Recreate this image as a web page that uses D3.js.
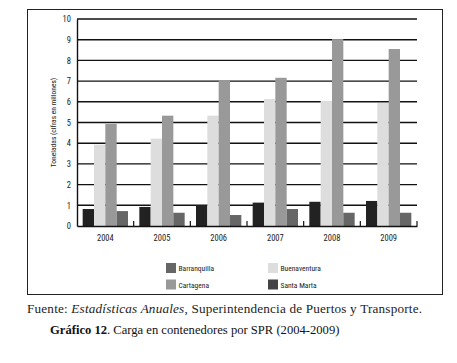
<!DOCTYPE html>
<html>
<head>
<meta charset="utf-8">
<script src="https://cdn.jsdelivr.net/npm/d3@7"></script>
<style>
  body { margin: 0; background: #fff; }
  svg { display: block; }
</style>
</head>
<body>
<div id="chart"></div>
<script>
// Chart data
const years = ["2004", "2005", "2006", "2007", "2008", "2009"];
const ports = ["Barranquilla", "Buenaventura", "Cartagena", "Santa Marta"];
const barranquilla = [0.82, 0.92, 1.01, 1.13, 1.17, 1.21];
const buenaventura = [3.93, 4.22, 5.33, 6.13, 6.04, 5.94];
const cartagena = [4.93, 5.33, 7.05, 7.16, 9.03, 8.55];
const santaMarta = [0.72, 0.64, 0.53, 0.82, 0.64, 0.64];
const yTicks = [0, 1, 2, 3, 4, 5, 6, 7, 8, 9, 10];

const barColors = ["#222222", "#dddddd", "#999999", "#666666"];
const legendColors = ["#666666", "#dddddd", "#999999", "#444444"];

const width = 457, height = 363;
const margin = { top: 19, right: 40, bottom: 137, left: 77 };
const sansFont = "'Liberation Sans Narrow', 'Roboto Condensed', 'Liberation Sans', sans-serif";

const svg = d3.select("#chart")
    .append("svg")
    .attr("width", width)
    .attr("height", height);

// outer frame
svg.append("rect")
    .attr("x", 27.5).attr("y", 9.5)
    .attr("width", 415).attr("height", 285)
    .attr("fill", "none")
    .attr("stroke", "#222")
    .attr("stroke-width", 1);

const x0 = d3.scaleBand()
    .domain(years)
    .range([margin.left, width - margin.right])
    .paddingInner(0)
    .paddingOuter(0);

const x1 = d3.scaleBand()
    .domain(ports)
    .range([0, x0.bandwidth()])
    .paddingOuter(0.5);

const y = d3.scaleLinear()
    .domain([0, 10])
    .range([height - margin.bottom, margin.top]);

const series = [barranquilla, buenaventura, cartagena, santaMarta];
const rows = years.map((yr, i) => ({
    year: yr,
    values: ports.map((p, j) => ({ port: p, idx: j, value: series[j][i] }))
}));

// gridlines
svg.append("g")
    .selectAll("line")
    .data(yTicks.filter(d => d > 0))
    .enter()
    .append("line")
    .attr("x1", margin.left)
    .attr("x2", width - margin.right)
    .attr("y1", d => y(d))
    .attr("y2", d => y(d))
    .attr("stroke", "#111")
    .attr("stroke-width", 1.4);

// bars
svg.append("g")
    .selectAll("g")
    .data(rows)
    .enter()
    .append("g")
    .attr("transform", d => `translate(${x0(d.year)},0)`)
    .selectAll("rect")
    .data(d => d.values)
    .enter()
    .append("rect")
    .attr("x", d => x1(d.port))
    .attr("width", x1.bandwidth())
    .attr("y", d => y(d.value))
    .attr("height", d => y(0) - y(d.value))
    .attr("fill", d => barColors[d.idx]);

// y axis
const yAxis = svg.append("g")
    .attr("transform", `translate(${margin.left},0)`)
    .call(d3.axisLeft(y).tickValues(yTicks).tickSize(0).tickPadding(6));
yAxis.select(".domain").attr("stroke", "#111").attr("stroke-width", 1.4);
yAxis.selectAll("text")
    .attr("font-family", sansFont)
    .attr("font-size", 8.5)
    .attr("fill", "#222");

// x axis baseline with boundary ticks
const xAxis = svg.append("g")
    .attr("transform", `translate(0,${y(0)})`)
    .call(d3.axisBottom(x0).tickSize(0).tickPadding(9));
xAxis.select(".domain").attr("stroke", "#111").attr("stroke-width", 1.4);
xAxis.selectAll("text")
    .attr("font-family", sansFont)
    .attr("font-size", 8.5)
    .attr("fill", "#222");
xAxis.selectAll("line.sep")
    .data(years)
    .enter()
    .append("line")
    .attr("class", "sep")
    .attr("x1", d => x0(d) + x0.bandwidth())
    .attr("x2", d => x0(d) + x0.bandwidth())
    .attr("y1", 0)
    .attr("y2", -5)
    .attr("stroke", "#111")
    .attr("stroke-width", 1.2);

// y axis title
svg.append("text")
    .attr("transform", `translate(56,${(y(0) + y(10)) / 2}) rotate(-90)`)
    .attr("text-anchor", "middle")
    .attr("font-family", sansFont)
    .attr("font-size", 7.5)
    .attr("fill", "#222")
    .text("Toneladas (cifras en millones)");

// legend
const legend = svg.append("g")
    .selectAll("g")
    .data(ports)
    .enter()
    .append("g")
    .attr("transform", (d, i) => `translate(${166 + (i % 2) * 102},${263 + Math.floor(i / 2) * 16.5})`);

legend.append("rect")
    .attr("width", 10)
    .attr("height", 10)
    .attr("fill", (d, i) => legendColors[i]);

legend.append("text")
    .attr("x", 12.5)
    .attr("y", 8)
    .attr("font-family", sansFont)
    .attr("font-size", 7.5)
    .attr("fill", "#222")
    .text(d => d);

// source note
const src = svg.append("text")
    .attr("x", 27)
    .attr("y", 313)
    .attr("textLength", 395)
    .attr("font-family", "'Liberation Serif', serif")
    .attr("font-size", 13.2)
    .attr("fill", "#222");
src.append("tspan").text("Fuente: ");
src.append("tspan").attr("font-style", "italic").text("Estadísticas Anuales");
src.append("tspan").text(", Superintendencia de Puertos y Transporte.");

// caption
const cap = svg.append("text")
    .attr("x", 50)
    .attr("y", 334)
    .attr("font-family", "'Liberation Serif', serif")
    .attr("font-size", 12.6)
    .attr("fill", "#111");
cap.append("tspan").attr("font-weight", "bold").text("Gráfico 12");
cap.append("tspan").text(". Carga en contenedores por SPR (2004-2009)");
</script>
</body>
</html>
